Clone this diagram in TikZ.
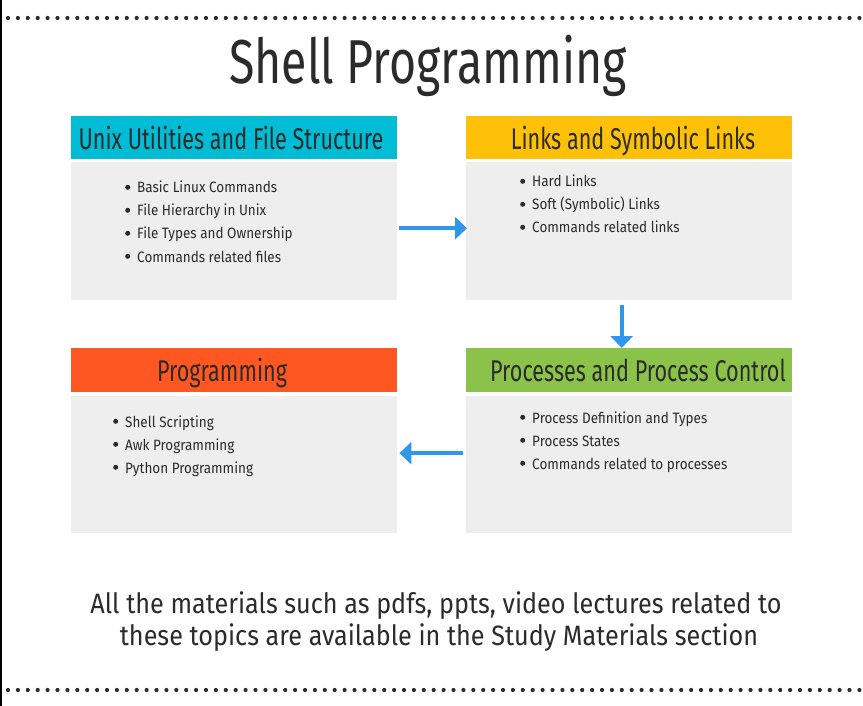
\documentclass[tikz,border=0pt]{standalone}
\usepackage{fontspec}
\setmainfont[FakeStretch=0.85]{Fira Sans}
\newfontfamily\headf[FakeStretch=0.72]{Fira Sans}
\newfontfamily\titlef[FakeStretch=0.75]{Fira Sans}
\newfontfamily\bodyf[FakeStretch=0.9]{Fira Sans}
\usetikzlibrary{arrows.meta}
\definecolor{ink}{HTML}{2B2B2B}
\definecolor{cCyan}{HTML}{00BCD4}
\definecolor{cAmber}{HTML}{FFC107}
\definecolor{cOrange}{HTML}{FF5722}
\definecolor{cGreen}{HTML}{8BC34A}
\definecolor{cBody}{HTML}{EEEEEE}
\definecolor{cArrow}{HTML}{2F96EC}
\newcommand\bul[1]{\makebox[12pt][l]{\raisebox{3.2pt}{\tikz\fill[ink] (0,0) circle (2.5pt);}}#1}
\tikzset{
  headbox/.style={rectangle, inner sep=0, minimum width=326pt, minimum height=43pt, anchor=north west},
  bodybox/.style={rectangle, inner sep=0, fill=cBody, minimum width=326pt, anchor=north west},
  headtxt/.style={inner sep=0, anchor=base, text=ink, font=\headf\fontsize{30}{32}\selectfont},
  item/.style={inner sep=0, anchor=base west, text=ink, font=\bodyf\fontsize{15}{17}\selectfont},
  arr/.style={draw=cArrow, line width=4pt, -{Triangle[width=22pt,length=12pt]}},
  dot/.style={fill=ink}
}
\begin{document}
\begin{tikzpicture}[x=1pt,y=-1pt]
\useasboundingbox (0,0) rectangle (863,706);
\fill[white] (0,0) rectangle (863,706);
% side line
\draw[line width=2pt, black] (1,0) -- (1,706);
% dotted rules
\foreach \i in {0,...,86} {
  \fill[dot] (8+\i*9.9,18) circle (2.1pt);
  \fill[dot] (8+\i*9.9,690) circle (2.1pt);
}
% title
\node[inner sep=0, anchor=base, text=ink, font=\titlef\fontsize{62}{64}\selectfont] (title) at (428,84) {Shell Programming};
% boxes
\node[headbox, fill=cCyan] (h1) at (71,116) {};
\node[bodybox, minimum height=138pt] (b1) at (71,162) {};
\node[headbox, fill=cAmber] (h2) at (466,116) {};
\node[bodybox, minimum height=138pt] (b2) at (466,162) {};
\node[headbox, fill=cOrange, minimum height=44pt] (h3) at (71,348) {};
\node[bodybox, minimum height=137pt] (b3) at (71,396) {};
\node[headbox, fill=cGreen, minimum height=44pt] (h4) at (466,348) {};
\node[bodybox, minimum height=137pt] (b4) at (466,396) {};
% header texts
\node[headtxt] (t1) at (231,150) {Unix Utilities and File Structure};
\node[headtxt] (t2) at (633,150) {Links and Symbolic Links};
\node[headtxt] (t3) at (222,381) {Programming};
\node[headtxt] (t4) at (638,381) {Processes and Process Control};
% items
\node[item] (i11) at (125,193) {\bul{Basic Linux Commands}};
\node[item] (i12) at (125,216) {\bul{File Hierarchy in Unix}};
\node[item] (i13) at (125,239) {\bul{File Types and Ownership}};
\node[item] (i14) at (125,262) {\bul{Commands related files}};
\node[item] (i21) at (520,187) {\bul{Hard Links}};
\node[item] (i22) at (520,210) {\bul{Soft (Symbolic) Links}};
\node[item] (i23) at (520,233) {\bul{Commands related links}};
\node[item] (i31) at (113,427) {\bul{Shell Scripting}};
\node[item] (i32) at (113,450) {\bul{Awk Programming}};
\node[item] (i33) at (113,473) {\bul{Python Programming}};
\node[item] (i41) at (520,423) {\bul{Process Definition and Types}};
\node[item] (i42) at (520,446) {\bul{Process States}};
\node[item] (i43) at (520,469) {\bul{Commands related to processes}};
% arrows
\draw[arr] ([xshift=2pt,yshift=3pt]b1.east) -- ([xshift=1pt,yshift=3pt]b2.west);
\draw[arr] ([xshift=-7.5pt,yshift=-5pt]b2.south) -- ([xshift=-7.5pt]h4.north);
\draw[arr] ([xshift=-3pt,yshift=11.5pt]b4.west) -- ([xshift=2pt,yshift=11.5pt]b3.east);
% footer
\node[inner sep=0, anchor=base, text=ink, font=\bodyf\fontsize{28}{30}\selectfont] (f1) at (436,613) {All the materials such as pdfs, ppts, video lectures related to};
\node[inner sep=0, anchor=base, text=ink, font=\bodyf\fontsize{28}{30}\selectfont] (f2) at (439,645) {these topics are available in the Study Materials section};
\end{tikzpicture}
\end{document}
